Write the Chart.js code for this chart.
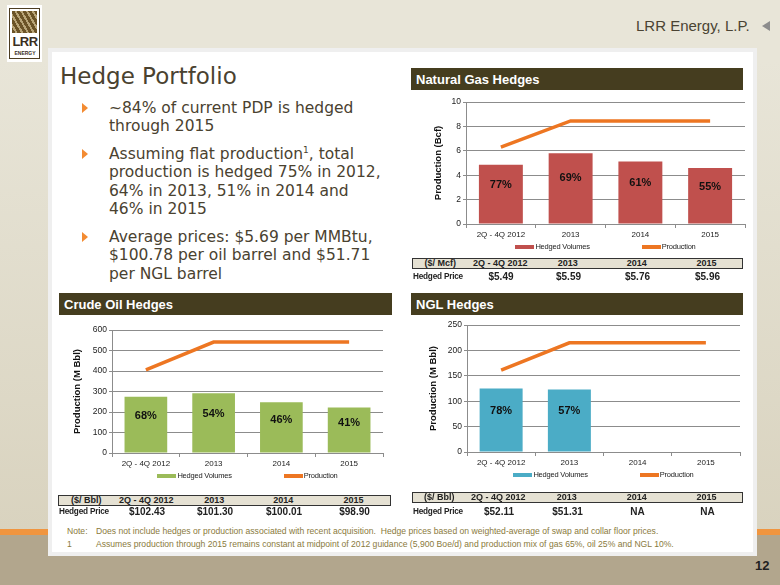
<!DOCTYPE html>
<html>
<head>
<meta charset="utf-8">
<script src="https://cdn.jsdelivr.net/npm/chart.js@4.4.0/dist/chart.umd.min.js"></script>
<style>
body{margin:0;width:780px;height:585px;overflow:hidden;background:#e8e5d8;position:relative;font-family:"Liberation Sans",Arial,sans-serif}
.abs{position:absolute}
.strip{position:absolute;background:linear-gradient(#e8e5d8,#d9d3bf)}
.panel{position:absolute;left:48px;top:48px;width:709px;height:508px;background:#fff;border:4px solid #efefef;box-sizing:border-box}
.head{position:absolute;height:22px;background:#453d1f;color:#fff;font:bold 13px "Liberation Sans",Arial;line-height:23px;padding-left:5px;box-sizing:border-box}
.title{position:absolute;left:60px;top:63px;font:23px "DejaVu Sans";color:#4a4230;white-space:nowrap}
.bul{position:absolute;left:109px;font:15.5px "DejaVu Sans";line-height:18.4px;color:#4a4230;white-space:nowrap}
.bul sup{font-size:9px;vertical-align:6px;line-height:0}
.tri{position:absolute;left:-27px;top:4px;width:0;height:0;border-top:5px solid transparent;border-bottom:5px solid transparent;border-left:6px solid #f38b32}
.th{position:absolute;height:11px;background:#e5e1d3;border:1.5px solid #333;box-sizing:border-box;display:flex;font:bold 9px "Liberation Sans",Arial;color:#222;line-height:9px}
.tr{position:absolute;height:11px;display:flex;font:bold 10px "Liberation Sans",Arial;color:#222;line-height:11px}
.th span,.tr span{text-align:center;white-space:nowrap}
.lg{position:absolute;display:flex;justify-content:center;gap:52px;font:7.5px "Liberation Sans",Arial;color:#222;letter-spacing:-0.2px}
.lg div{display:flex;align-items:center;white-space:nowrap}
.lg i{display:inline-block;width:19px;height:4px;margin-right:1px}
.note{position:absolute;left:67px;font:8.6px "Liberation Sans",Arial;color:#8a7a3c;white-space:nowrap}
.note b{font-weight:normal;position:absolute;left:29px}
canvas{position:absolute}
</style>
</head>
<body>
<div class="strip" style="left:0;top:60px;width:49px;height:470px"></div>
<div class="strip" style="left:757px;top:60px;width:23px;height:470px"></div>
<div class="abs" style="left:0;top:529px;width:780px;height:6px;background:#f0953f"></div>
<div class="abs" style="left:0;top:535px;width:780px;height:50px;background:#b2a68d"></div>
<div class="panel"></div>

<!-- logo -->
<div class="abs" style="left:7px;top:5px;width:35px;height:57px;background:#fff"></div>
<div class="abs" style="left:9px;top:8px;width:31px;height:51px;border:1.5px solid #4d3d22;box-sizing:border-box"></div>
<div class="abs" style="left:12px;top:11px;width:25px;height:22px;background:repeating-linear-gradient(60deg,#6b5326 0 3px,#b8a477 3px 5px)"></div>
<div class="abs" style="left:11px;top:34px;width:28px;text-align:center;font:bold 13px 'Liberation Sans',Arial;color:#3b2f1f;letter-spacing:-0.5px">LRR</div>
<div class="abs" style="left:11px;top:50px;width:28px;text-align:center;font:bold 5px 'Liberation Sans',Arial;color:#3b2f1f">ENERGY</div>

<div class="abs" style="left:636px;top:17px;font:15px 'Liberation Sans',Arial;color:#4a4333">LRR Energy, L.P.</div>
<div class="abs" style="left:762px;top:21px;width:0;height:0;border-top:5px solid transparent;border-bottom:5px solid transparent;border-right:8px solid #8c8c8c"></div>

<div class="title">Hedge Portfolio</div>
<div class="bul" style="top:99px"><div class="tri"></div>~84% of current PDP is hedged<br>through 2015</div>
<div class="bul" style="top:145px"><div class="tri"></div>Assuming flat production<sup>1</sup>, total<br>production is hedged 75% in 2012,<br>64% in 2013, 51% in 2014 and<br>46% in 2015</div>
<div class="bul" style="top:228px"><div class="tri"></div>Average prices: $5.69 per MMBtu,<br>$100.78 per oil barrel and $51.71<br>per NGL barrel</div>

<div class="head" style="left:411px;top:68px;width:332px">Natural Gas Hedges</div>
<div class="head" style="left:59px;top:293px;width:333px">Crude Oil Hedges</div>
<div class="head" style="left:411px;top:293px;width:332px">NGL Hedges</div>

<canvas id="gas" width="325" height="152" style="left:427px;top:92px"></canvas>
<canvas id="oil" width="324" height="153" style="left:66px;top:320px"></canvas>
<canvas id="ngl" width="325" height="157" style="left:422px;top:315px"></canvas>
<div class="lg" id="gasLegend"></div>
<div class="lg" id="oilLegend"></div>
<div class="lg" id="nglLegend"></div>

<div class="note" style="top:526px">Note:<b>Does not include hedges or production associated with recent acquisition.&nbsp; Hedge prices based on weighted-average of swap and collar floor prices.</b></div>
<div class="note" style="top:539px">1<b>Assumes production through 2015 remains constant at midpoint of 2012 guidance (5,900 Boe/d) and production mix of gas 65%, oil 25% and NGL 10%.</b></div>
<div class="abs" style="left:755px;top:558px;font:bold 13px 'Liberation Sans',Arial;color:#222">12</div>

<script>
// DATA
const years = ["2Q - 4Q 2012", "2013", "2014", "2015"];

const gasHedged = [4.85, 5.8, 5.12, 4.6];
const gasProd = [6.3, 8.45, 8.45, 8.45];
const gasPct = ["77%", "69%", "61%", "55%"];
const gasPrices = ["$5.49", "$5.59", "$5.76", "$5.96"];

const oilHedged = [275, 291, 247, 222];
const oilProd = [405, 541, 541, 541];
const oilPct = ["68%", "54%", "46%", "41%"];
const oilPrices = ["$102.43", "$101.30", "$100.01", "$98.90"];

const nglHedged = [125, 123, null, null];
const nglProd = [161, 215, 215, 215];
const nglPct = ["78%", "57%"];
const nglPrices = ["$52.11", "$51.31", "NA", "NA"];

const seriesNames = ["Hedged Volumes", "Production"];

// COLORS
const RED = "#c0504d", GREEN = "#9bbb59", BLUE = "#4bacc6", ORANGE = "#ed7622";
const GRID = "#8c8c8c";

// percent labels inside the bars
const pctLabels = {
  id: "pctLabels",
  afterDatasetsDraw(chart) {
    const txt = chart.options.plugins.pctLabels.labels;
    const ctx = chart.ctx;
    ctx.save();
    ctx.font = "bold 11px 'Liberation Sans', Arial";
    ctx.fillStyle = "#111";
    ctx.textAlign = "center";
    ctx.textBaseline = "middle";
    chart.getDatasetMeta(0).data.forEach((bar, i) => {
      if (!txt[i]) return;
      ctx.fillText(txt[i], bar.x, bar.y + (bar.base - bar.y) * 0.35);
    });
    ctx.restore();
  }
};

// legend in html, below the x axis
const htmlLegend = {
  id: "htmlLegend",
  afterUpdate(chart) {
    const o = chart.options.plugins.htmlLegend;
    const box = document.getElementById(o.box);
    const a = chart.chartArea, c = chart.canvas;
    box.style.left = (c.offsetLeft + a.left) + "px";
    box.style.width = (a.right - a.left) + "px";
    box.style.top = (c.offsetTop + a.bottom + 18) + "px";
    box.innerHTML = "";
    chart.options.plugins.legend.labels.generateLabels(chart)
      .sort((p, q) => p.datasetIndex - q.datasetIndex)
      .forEach(it => {
        const d = document.createElement("div");
        d.innerHTML = `<i style="background:${it.fillStyle}"></i>${it.text}`;
        box.appendChild(d);
      });
  }
};

function makeChart(id, hedged, prod, pct, color, yMax, yStep, yTitle, yWidth, padTop) {
  return new Chart(document.getElementById(id), {
    type: "bar",
    data: {
      labels: years,
      datasets: [
        {label: seriesNames[0], data: hedged, backgroundColor: color, order: 2,
         categoryPercentage: 1, barPercentage: 0.63},
        {type: "line", label: seriesNames[1], data: prod, borderColor: ORANGE, backgroundColor: ORANGE,
         borderWidth: 3.5, pointRadius: 0, tension: 0, order: 1, borderCapStyle: "butt"}
      ]
    },
    options: {
      responsive: false,
      animation: false,
      layout: {padding: {top: padTop, right: 7, left: 0, bottom: 0}},
      plugins: {
        legend: {display: false},
        tooltip: {enabled: false},
        pctLabels: {labels: pct},
        htmlLegend: {box: id + "Legend"}
      },
      scales: {
        x: {
          grid: {display: true, drawOnChartArea: false, color: GRID, tickLength: 4, offset: true},
          border: {color: GRID},
          ticks: {font: {family: "Liberation Sans", size: 8}, color: "#222", padding: 2, maxRotation: 0},
          afterFit: s => { s.height = 20; }
        },
        y: {
          min: 0, max: yMax,
          ticks: {stepSize: yStep, font: {family: "Liberation Sans", size: 8.5}, color: "#222", padding: 2},
          grid: {color: GRID, tickLength: 3},
          border: {color: GRID},
          title: {display: true, text: yTitle, color: "#111",
                  font: {family: "Liberation Sans", size: 9.5, weight: "bold"}, padding: {top: 6, bottom: 0}},
          afterFit: s => { s.width = yWidth; }
        }
      }
    },
    plugins: [pctLabels, htmlLegend]
  });
}

makeChart("gas", gasHedged, gasProd, gasPct, RED, 10, 2, "Production (Bcf)", 39, 10);
makeChart("oil", oilHedged, oilProd, oilPct, GREEN, 600, 100, "Production (M Bbl)", 46, 10);
makeChart("ngl", nglHedged, nglProd, nglPct, BLUE, 250, 50, "Production (M Bbl)", 45, 10);

// PRICE TABLES
function makeTable(left, headTop, rowTop, widths, unit, prices) {
  const th = document.createElement("div");
  th.className = "th";
  th.style.left = left + "px";
  th.style.top = headTop + "px";
  th.style.width = widths.reduce((a, b) => a + b, 0) + "px";
  [unit].concat(years).forEach((t, i) => {
    th.innerHTML += `<span style="width:${widths[i] - (i === 0 ? 1.5 : 0)}px">${t}</span>`;
  });
  document.body.appendChild(th);

  const tr = document.createElement("div");
  tr.className = "tr";
  tr.style.left = (left + 1) + "px";
  tr.style.top = rowTop + "px";
  ["Hedged Price"].concat(prices).forEach((t, i) => {
    const st = i === 0 ? "text-align:left;font-size:8.2px;letter-spacing:-0.2px" : "";
    tr.innerHTML += `<span style="width:${widths[i] - (i === 0 ? 1 : 0)}px;${st}">${t}</span>`;
  });
  document.body.appendChild(tr);
}

makeTable(412, 258, 271, [56, 66, 69, 69, 71], "($/ Mcf)", gasPrices);
makeTable(58, 495, 506, [56, 66, 70, 68, 73], "($/ Bbl)", oilPrices);
makeTable(412, 492, 506, [54, 66, 71, 69, 71], "($/ Bbl)", nglPrices);
</script>
</body>
</html>
